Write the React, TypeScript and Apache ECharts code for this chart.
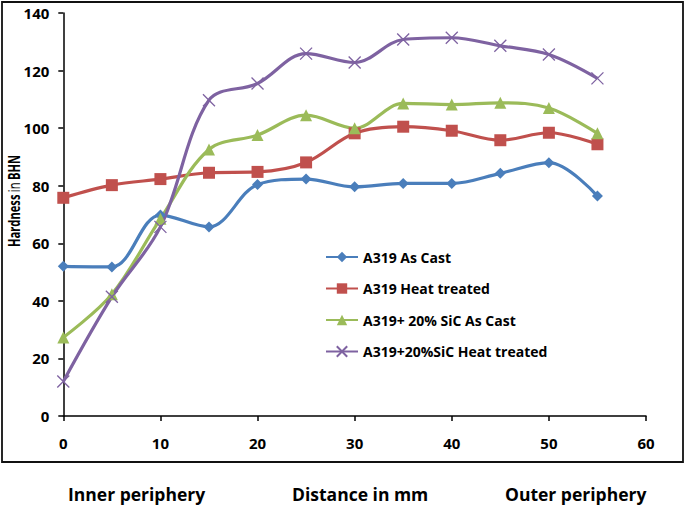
import React, { useEffect, useRef } from "react";
import * as echarts from "echarts";

const distances = [0, 5, 10, 15, 20, 25, 30, 35, 40, 45, 50, 55];
const asCast = [52, 51.8, 69.8, 65.7, 80.4, 82.3, 79.6, 80.8, 80.8, 84.3, 88, 76.4];
const heatTreated = [75.8, 80.2, 82.3, 84.5, 84.8, 88.1, 98.2, 100.5, 99.1, 95.8, 98.4, 94.4];
const sicAsCast = [27.3, 42.3, 68.5, 92.6, 97.6, 104.5, 100, 108.6, 108.2, 108.8, 107, 98.2];
const sicHeatTreated = [12, 41.4, 65.7, 109.7, 115.5, 125.9, 122.8, 130.8, 131.4, 128.6, 125.6, 117.3];

const seriesNames = [
  "A319 As Cast",
  "A319 Heat treated",
  "A319+ 20% SiC As Cast",
  "A319+20%SiC Heat treated",
];
const xTitles = ["Inner periphery", "Distance in mm", "Outer periphery"];

const FONT = "'Open Sans', sans-serif";

export default function App() {
  const ref = useRef<HTMLDivElement>(null);
  useEffect(() => {
    if (!ref.current) return;
    const chart = echarts.init(ref.current, undefined, { renderer: "svg" });
    const pair = (ys: number[]) => distances.map((x, i) => [x, ys[i]]);
    const colors = ["#4A7EBB", "#C0504D", "#9BBB59", "#7E62A1"];
    const symbols = ["diamond", "rect", "triangle", "path://M0,0 L10,10 M10,0 L0,10"];
    const sizes = [11, 12, 12, 12];
    const datas = [asCast, heatTreated, sicAsCast, sicHeatTreated];
    chart.setOption({
      animation: false,
      backgroundColor: "#fff",
      textStyle: { fontFamily: FONT },
      grid: { left: 63.3, right: 39, top: 13, bottom: 90, containLabel: false },
      xAxis: {
        type: "value",
        min: 0,
        max: 60,
        interval: 10,
        splitLine: { show: false },
        axisLine: { lineStyle: { color: "#000", width: 1.5 } },
        axisTick: { show: true, length: 5, lineStyle: { color: "#000", width: 1.5 } },
        axisLabel: { color: "#000", fontWeight: "bold", fontSize: 15, margin: 19, fontFamily: FONT },
      },
      yAxis: {
        type: "value",
        min: 0,
        max: 140,
        interval: 20,
        splitLine: { show: false },
        axisLine: { show: true, lineStyle: { color: "#000", width: 1.5 } },
        axisTick: { show: true, length: 5, lineStyle: { color: "#000", width: 1.5 } },
        axisLabel: { color: "#000", fontWeight: "bold", fontSize: 15, margin: 14, fontFamily: FONT },
      },
      legend: {
        orient: "vertical",
        left: 320,
        top: 245,
        itemWidth: 32,
        itemHeight: 13,
        itemGap: 17.5,
        textStyle: { color: "#000", fontWeight: "bold", fontSize: 14, fontFamily: FONT },
        data: seriesNames,
      },
      series: datas.map((d, i) => ({
        name: seriesNames[i],
        type: "line",
        data: pair(d),
        smooth: 0.35,
        symbol: symbols[i],
        symbolSize: sizes[i],
        color: colors[i],
        lineStyle: { color: colors[i], width: 3.2 },
        itemStyle:
          i === 3
            ? { color: colors[i], borderColor: colors[i], borderWidth: 1.3 }
            : { color: colors[i] },
      })),
      graphic: [
        {
          type: "rect",
          shape: { x: 2, y: 2, width: 681, height: 460 },
          style: { fill: "none", stroke: "#111", lineWidth: 1.8 },
          silent: true,
          z: 100,
        },
        {
          type: "text",
          x: 14,
          y: 201,
          rotation: Math.PI / 2,
          scaleX: 0.72,
          style: {
            text: "{b|Hardness} {n|in} {b|BHN}",
            align: "center",
            verticalAlign: "middle",
            rich: {
              b: { fontFamily: FONT, fontWeight: "bold", fontSize: 15.5, fill: "#000" },
              n: { fontFamily: FONT, fontWeight: "normal", fontSize: 15.5, fill: "#000" },
            },
          },
        },
        {
          type: "text",
          x: 68,
          y: 494,
          style: { text: xTitles[0], fontFamily: FONT, fontWeight: "bold", fontSize: 17.5, fill: "#000", verticalAlign: "middle" },
        },
        {
          type: "text",
          x: 292,
          y: 494,
          style: { text: xTitles[1], fontFamily: FONT, fontWeight: "bold", fontSize: 17.5, fill: "#000", verticalAlign: "middle" },
        },
        {
          type: "text",
          x: 505,
          y: 494,
          style: { text: xTitles[2], fontFamily: FONT, fontWeight: "bold", fontSize: 17.5, fill: "#000", verticalAlign: "middle" },
        },
      ],
    });
    return () => chart.dispose();
  }, []);
  return (
    <div
      ref={ref}
      style={{ position: "fixed", left: 0, top: 0, width: 685, height: 506, background: "#fff" }}
    />
  );
}
